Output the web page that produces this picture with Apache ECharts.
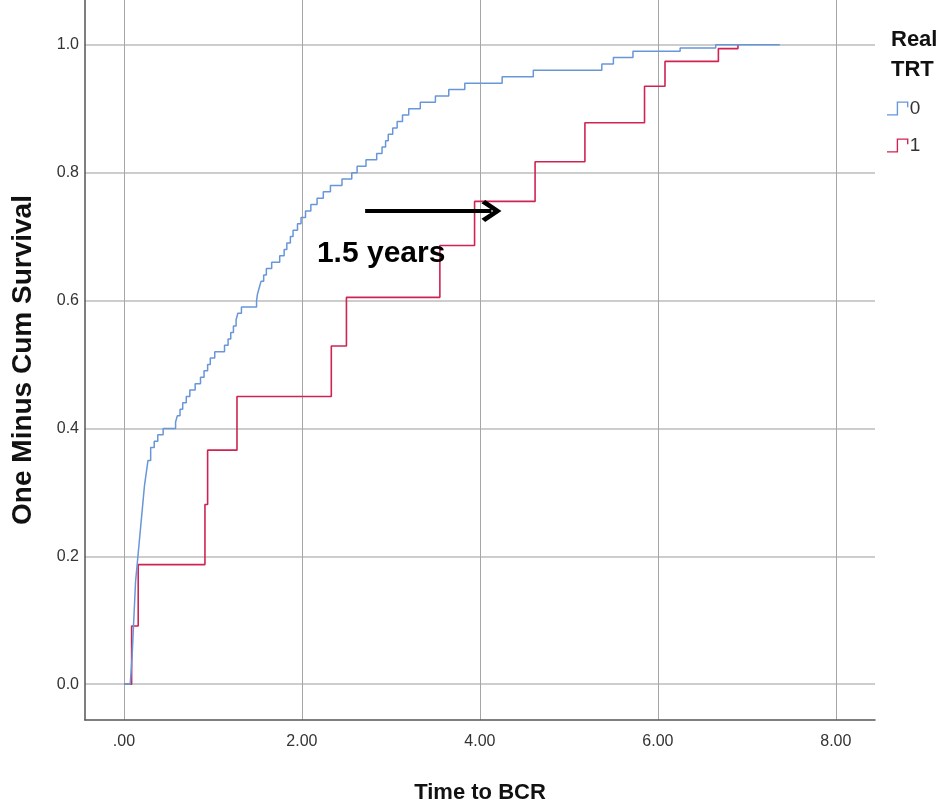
<!DOCTYPE html>
<html>
<head>
<meta charset="utf-8">
<script src="https://cdn.jsdelivr.net/npm/echarts@6.0.0/dist/echarts.min.js"></script>
<style>
  html, body { margin: 0; padding: 0; background: #fff; }
  #chart { width: 946px; height: 809px; }
</style>
</head>
<body>
<div id="chart"></div>
<script>
  // Real TRT = 0 : [time, one minus cum survival]
  const group0 = [
    [0, 0], [0.07, 0], [0.08, 0.02], [0.09, 0.04], [0.1, 0.07], [0.11, 0.1], [0.12, 0.13],
    [0.13, 0.16], [0.15, 0.19], [0.17, 0.22], [0.19, 0.25], [0.21, 0.28], [0.23, 0.31],
    [0.25, 0.33], [0.27, 0.35], [0.3, 0.37], [0.34, 0.38], [0.38, 0.39], [0.44, 0.4],
    [0.58, 0.41], [0.6, 0.42], [0.63, 0.43], [0.66, 0.44], [0.7, 0.45], [0.74, 0.46],
    [0.8, 0.47], [0.86, 0.48], [0.9, 0.49], [0.94, 0.5], [0.97, 0.51], [1.02, 0.52],
    [1.13, 0.53], [1.17, 0.54], [1.2, 0.55], [1.23, 0.56], [1.26, 0.57], [1.28, 0.58],
    [1.32, 0.59], [1.49, 0.6], [1.5, 0.61], [1.52, 0.62], [1.54, 0.63], [1.57, 0.64],
    [1.6, 0.65], [1.66, 0.66], [1.75, 0.67], [1.8, 0.68], [1.83, 0.69], [1.87, 0.7],
    [1.9, 0.71], [1.95, 0.72], [1.99, 0.73], [2.04, 0.74], [2.1, 0.75], [2.17, 0.76],
    [2.24, 0.77], [2.32, 0.78], [2.45, 0.79], [2.56, 0.8], [2.62, 0.81], [2.72, 0.82],
    [2.84, 0.83], [2.9, 0.84], [2.94, 0.85], [2.97, 0.86], [3.02, 0.87], [3.07, 0.88],
    [3.13, 0.89], [3.2, 0.9], [3.33, 0.91], [3.5, 0.92], [3.65, 0.93], [3.83, 0.94],
    [4.25, 0.95], [4.6, 0.96], [5.37, 0.97], [5.5, 0.98], [5.72, 0.99], [6.25, 0.995],
    [6.65, 1.0], [7.37, 1.0]
  ];
  // Real TRT = 1
  const group1 = [
    [0, 0], [0.086, 0.091], [0.16, 0.187], [0.91, 0.281], [0.94, 0.366], [1.27, 0.45],
    [2.33, 0.529], [2.5, 0.605], [3.55, 0.686], [3.94, 0.755], [4.62, 0.817],
    [5.18, 0.878], [5.85, 0.935], [6.08, 0.974], [6.68, 0.994], [6.9, 1.0]
  ];

  const xTicks = [0, 2, 4, 6, 8];
  const yTicks = [0, 0.2, 0.4, 0.6, 0.8, 1.0];

  // annotation, in data units
  const arrowFrom = [2.71, 0.74];
  const arrowTo = [4.13, 0.74];
  const noteAt = [2.89, 0.673];
  const noteText = "1.5 years";

  const chart = echarts.init(document.getElementById("chart"));

  const sans = "'Liberation Sans', Arial, sans-serif";
  const stepIcon = "path://M0,13 L10,13 L10,0 L22,0 L22,6 L20.6,6 L20.6,1.4 L11.4,1.4 L11.4,14.4 L0,14.4 Z";

  chart.setOption({
    animation: false,
    grid: {
      left: 85,
      right: 71,
      top: 0,
      bottom: 86,
    },
    title: {
      text: "Real\nTRT",
      left: 886,
      top: 20,
      textStyle: {
        fontFamily: sans,
        fontWeight: "bold",
        fontSize: 22,
        lineHeight: 30,
        color: "#111",
      },
    },
    legend: {
      orient: "vertical",
      left: 882,
      top: 94,
      itemWidth: 22,
      itemHeight: 14,
      itemGap: 18,
      textStyle: {
        fontFamily: sans,
        fontSize: 19,
        color: "#333",
        padding: [0, 0, 0, -4],
      },
      data: [
        { name: "0", icon: stepIcon },
        { name: "1", icon: stepIcon },
      ],
    },
    xAxis: {
      type: "value",
      min: -0.438,
      max: 8.44,
      name: "Time to BCR",
      nameLocation: "middle",
      nameGap: 62,
      nameTextStyle: {
        fontFamily: sans,
        fontWeight: "bold",
        fontSize: 22,
        color: "#111",
      },
      axisLine: { onZero: false, lineStyle: { color: "#555", width: 1.5 } },
      axisTick: { show: false, customValues: xTicks },
      splitLine: { show: true, lineStyle: { color: "#a6a6a6", width: 1 } },
      axisLabel: {
        customValues: xTicks,
        margin: 14,
        fontFamily: sans,
        fontSize: 16,
        color: "#333",
        formatter: (v) => (v === 0 ? ".00" : v.toFixed(2)),
      },
    },
    yAxis: {
      type: "value",
      min: -0.056,
      max: 1.07,
      name: "One Minus Cum Survival",
      nameLocation: "middle",
      nameGap: 48,
      nameTextStyle: {
        fontFamily: sans,
        fontWeight: "bold",
        fontSize: 28,
        color: "#111",
      },
      axisLine: { show: true, onZero: false, lineStyle: { color: "#555", width: 1.5 } },
      axisTick: { show: false, customValues: yTicks },
      splitLine: { show: true, lineStyle: { color: "#bdbdbd", width: 1.5 } },
      axisLabel: {
        customValues: yTicks,
        margin: 6,
        fontFamily: sans,
        fontSize: 16,
        color: "#333",
        formatter: (v) => v.toFixed(1),
      },
    },
    series: [
      {
        name: "0",
        type: "line",
        step: "end",
        showSymbol: false,
        color: "#6797d8",
        lineStyle: { width: 1.5 },
        data: group0,
        z: 3,
      },
      {
        name: "1",
        type: "line",
        step: "end",
        showSymbol: false,
        color: "#cf2352",
        lineStyle: { width: 1.6 },
        data: group1,
        z: 2,
        markLine: {
          silent: true,
          symbol: ["none", "path://M0,11 L10,0 L20,11 L17,13.5 L10,5.5 L3,13.5 Z"],
          symbolSize: [22, 20],
          label: { show: false },
          lineStyle: { color: "#000", width: 4, type: "solid" },
          data: [[{ coord: arrowFrom }, { coord: arrowTo }]],
        },
        markPoint: {
          silent: true,
          symbol: "circle",
          symbolSize: 0,
          label: {
            show: true,
            formatter: noteText,
            fontFamily: sans,
            fontWeight: "bold",
            fontSize: 30,
            color: "#000",
          },
          data: [{ coord: noteAt }],
        },
      },
    ],
  });
</script>
</body>
</html>
